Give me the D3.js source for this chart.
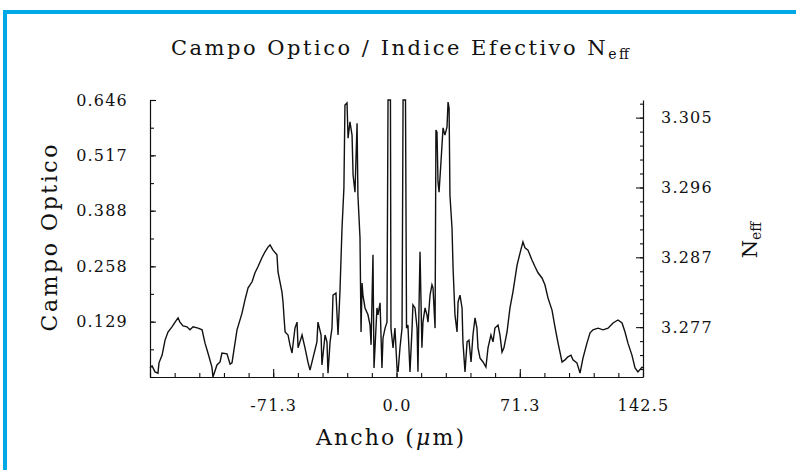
<!DOCTYPE html>
<html>
<head>
<meta charset="utf-8">
<script src="https://cdn.jsdelivr.net/npm/d3@7"></script>
<style>
  html, body { margin: 0; padding: 0; background: #ffffff; }
  svg { display: block; }
  text { font-family: "DejaVu Serif", "Liberation Serif", serif; fill: #111; }
</style>
</head>
<body>
<svg id="chart" width="796" height="470"></svg>
<script>
// ---------- data ----------
const widthUm = [
  -142.5,-141.3,-139.6,-137.9,-137.3,-135.5,-133.8,-132.1,-129.8,-128.0,-126.3,-125.2,-123.4,-121.1,-119.4,-117.6,
  -114.7,-112.4,-110.7,-109.0,-106.7,-106.1,-103.8,-102.0,-100.9,-98.0,-96.2,-95.1,-92.2,-89.3,-87.6,-85.8,-83.5,
  -81.8,-80.1,-77.8,-76.0,-74.3,-73.1,-71.4,-69.1,-68.5,-66.2,-65.6,-65.0,-64.4,-62.7,-61.6,-60.4,-58.7,-57.5,
  -56.9,-54.6,-52.9,-51.2,-50.0,-48.3,-46.0,-45.4,-43.6,-43.1,-41.3,-40.2,-39.6,-38.4,-37.3,-36.7,-35.0,-33.8,
  -32.7,-31.5,-30.4,-29.8,-28.6,-28.0,-26.9,-25.7,-25.1,-24.0,-22.8,-22.3,-21.1,-20.5,-19.9,-19.4,-18.2,-16.5,
  -15.3,-14.7,-13.6,-13.0,-11.3,-10.7,-9.5,-8.4,-7.8,-6.6,-5.5,-4.9,-3.5,-3.2,-2.0,-0.9,0.3,0.9,2.0,3.2,3.8,5.2,
  5.8,6.6,7.8,9.0,9.5,10.7,11.9,12.4,13.0,13.6,14.7,15.3,16.5,17.6,18.2,19.4,20.5,21.1,22.3,22.8,23.4,24.0,24.6,
  25.7,26.9,28.0,29.2,29.8,30.4,30.9,32.1,32.7,33.8,35.0,35.6,36.7,37.9,38.4,39.6,40.8,41.9,43.1,44.2,45.4,46.5,
  47.1,48.3,50.0,51.7,52.9,54.6,55.8,56.9,58.7,59.8,61.0,62.1,63.9,65.6,67.3,69.7,71.4,73.1,74.3,76.0,78.3,80.1,
  81.8,84.1,85.8,87.6,89.9,91.6,93.4,95.7,97.4,99.1,100.9,102.0,104.3,106.1,107.8,110.1,111.9,113.6,116.5,119.4,
  122.3,125.2,128.0,130.4,132.1,133.8,136.1,137.9,139.6,141.9,142.5
];
const opticalField = [
  0.021,0.026,0.012,0.009,0.033,0.051,0.086,0.105,0.117,0.128,0.138,0.128,0.119,0.117,0.110,0.117,
  0.114,0.110,0.079,0.056,0.023,0.000,0.028,0.035,0.056,0.054,0.030,0.033,0.110,0.149,0.180,0.208,0.222,
  0.243,0.257,0.278,0.292,0.303,0.308,0.296,0.285,0.245,0.198,0.175,0.138,0.105,0.098,0.075,0.056,0.114,0.128,
  0.068,0.098,0.068,0.035,0.016,0.044,0.082,0.128,0.098,0.028,0.098,0.082,0.009,0.082,0.114,0.191,0.196,0.098,
  0.198,0.347,0.441,0.634,0.639,0.557,0.595,0.564,0.471,0.431,0.592,0.424,0.324,0.105,0.219,0.191,0.161,0.145,
  0.121,0.075,0.285,0.021,0.161,0.145,0.173,0.021,0.091,0.114,0.128,0.646,0.646,0.114,0.068,0.114,0.021,0.012,0.068,0.114,0.646,0.646,
  0.114,0.121,0.012,0.114,0.168,0.161,0.114,0.012,0.161,0.292,0.068,0.128,0.161,0.145,0.128,0.191,0.215,0.208,0.114,0.576,0.571,0.455,0.431,
  0.501,0.581,0.564,0.583,0.641,0.627,0.424,0.347,0.254,0.145,0.105,0.175,0.191,0.161,0.082,0.012,0.082,0.086,0.035,0.098,0.138,0.114,
  0.068,0.044,0.035,0.023,0.068,0.098,0.082,0.114,0.121,0.098,0.058,0.068,0.105,0.161,0.198,0.261,0.289,0.315,0.301,0.296,0.273,0.257,
  0.243,0.231,0.215,0.184,0.156,0.117,0.079,0.035,0.040,0.047,0.051,0.040,0.033,0.009,0.044,0.079,0.103,0.110,0.114,0.110,
  0.114,0.126,0.133,0.126,0.105,0.079,0.051,0.021,0.012,0.023,0.021
];
const xMajorTicks = [-142.5, -71.3, 0.0, 71.3, 142.5];
const xTickLabels = ["", "-71.3", "0.0", "71.3", "142.5"];
const leftMajorTicks = [0.129, 0.258, 0.388, 0.517, 0.646];
const leftTickLabels = ["0.129", "0.258", "0.388", "0.517", "0.646"];
const rightMajorTicks = [3.2773, 3.2866, 3.2959, 3.3052];
const rightTickLabels = ["3.277", "3.287", "3.296", "3.305"];
const xDomain = [-142.5, 142.5];
const fieldDomain = [0, 0.646];
const neffDomain = [3.27066, 3.30755];

// ---------- layout ----------
const svg = d3.select("#chart");
const L = 150, R = 643, T = 100, B = 377;

svg.append("rect").attr("x", 0).attr("y", 0).attr("width", 796).attr("height", 470).attr("fill", "#fff");
// blue frame
svg.append("rect").attr("x", 3).attr("y", 10).attr("width", 793).attr("height", 4).attr("fill", "#00a8e6");
svg.append("rect").attr("x", 3).attr("y", 10).attr("width", 4).attr("height", 460).attr("fill", "#00a8e6");

const x = d3.scaleLinear().domain(xDomain).range([L, R]);
const y = d3.scaleLinear().domain(fieldDomain).range([B, T]);
const yR = d3.scaleLinear().domain(neffDomain).range([B, T]);

function styleAxis(g) {
  g.selectAll("path.domain").attr("stroke", "#111").attr("stroke-width", 1.2);
  g.selectAll(".tick line").attr("stroke", "#111").attr("stroke-width", 1.1);
  g.selectAll(".tick text").style("font-family", '"DejaVu Serif", serif').style("font-size", "16px")
    .style("letter-spacing", "1.2px").attr("fill", "#111");
}

// bottom axis: minor ticks
const xMinor = d3.range(-142.5, 142.6, 71.25 / 5);
svg.append("g").attr("transform", `translate(0,${B})`)
  .call(d3.axisBottom(x).tickValues(xMinor).tickSize(-4).tickSizeOuter(0).tickFormat(""))
  .call(g => g.select("path.domain").remove())
  .call(styleAxis);
svg.append("g").attr("transform", `translate(0,${B})`)
  .call(d3.axisBottom(x).tickValues(xMajorTicks).tickSize(-8).tickSizeOuter(0).tickPadding(23)
    .tickFormat((d, i) => xTickLabels[i]))
  .call(styleAxis);

// left axis
const yMinor = d3.range(0, 0.647, 0.0646);
svg.append("g").attr("transform", `translate(${L},0)`)
  .call(d3.axisLeft(y).tickValues(yMinor).tickSize(-4).tickSizeOuter(0).tickFormat(""))
  .call(g => g.select("path.domain").remove())
  .call(styleAxis);
svg.append("g").attr("transform", `translate(${L},0)`)
  .call(d3.axisLeft(y).tickValues(leftMajorTicks).tickSize(-6).tickSizeOuter(0).tickPadding(22)
    .tickFormat((d, i) => leftTickLabels[i]))
  .call(styleAxis);

// right axis
const rStep = (rightMajorTicks[1] - rightMajorTicks[0]) / 5;
const rMinor = d3.range(rightMajorTicks[0] - 5 * rStep, neffDomain[1], rStep).filter(v => v > neffDomain[0] + 1e-6);
svg.append("g").attr("transform", `translate(${R},0)`)
  .call(d3.axisRight(yR).tickValues(rMinor).tickSize(-3).tickSizeOuter(0).tickFormat(""))
  .call(g => g.select("path.domain").remove())
  .call(styleAxis);
svg.append("g").attr("transform", `translate(${R},0)`)
  .call(d3.axisRight(yR).tickValues(rightMajorTicks).tickSize(-7).tickSizeOuter(0).tickPadding(18)
    .tickFormat((d, i) => rightTickLabels[i]))
  .call(styleAxis);

// curve
const pts = widthUm.map((w, i) => [w, opticalField[i]]);
svg.append("path")
  .datum(pts)
  .attr("fill", "none")
  .attr("stroke", "#111")
  .attr("stroke-width", 1.4)
  .attr("stroke-linejoin", "miter")
  .attr("d", d3.line().x(d => x(d[0])).y(d => y(d[1])));

// title
const title = svg.append("text").attr("x", 400).attr("y", 55).attr("text-anchor", "middle")
  .style("font-size", "21px").attr("textLength", 458).attr("lengthAdjust", "spacing");
title.append("tspan").text("Campo Optico / Indice Efectivo N");
title.append("tspan").attr("dy", 4).style("font-size", "14px").text("eff");

// x label
const xl = svg.append("text").attr("x", 390).attr("y", 445).attr("text-anchor", "middle")
  .style("font-size", "22px").attr("textLength", 148).attr("lengthAdjust", "spacing");
xl.append("tspan").text("Ancho (");
xl.append("tspan").style("font-style", "italic").text("μ");
xl.append("tspan").text("m)");

// left label
svg.append("text").attr("transform", "translate(57,238) rotate(-90)").attr("text-anchor", "middle")
  .style("font-size", "22px").attr("textLength", 187).attr("lengthAdjust", "spacing").text("Campo Optico");

// right label
const rl = svg.append("text").attr("transform", "translate(757,240) rotate(-90)").attr("text-anchor", "middle")
  .style("font-size", "21px");
rl.append("tspan").text("N");
rl.append("tspan").attr("dy", 4).style("font-size", "14px").text("eff");
</script>
</body>
</html>
